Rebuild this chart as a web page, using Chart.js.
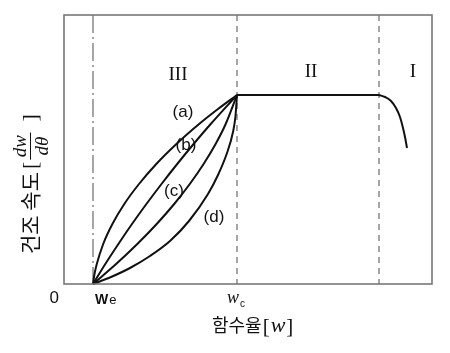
<!DOCTYPE html>
<html>
<head>
<meta charset="utf-8">
<script src="https://cdn.jsdelivr.net/npm/chart.js@4"></script>
<style>
  html, body { margin: 0; padding: 0; background: #fff; }
  canvas { display: block; }
</style>
</head>
<body>
<canvas id="dryChart" width="450" height="353"></canvas>
<script>
// ---------------- data (함수율 w, 건조 속도) ----------------
// axis ranges (arbitrary units)
const wMax = 368;
const rateMax = 269;

// region boundaries: We, wc, 1st/2nd stage boundary
const wE = 29;
const wC = 173;
const wK = 315;

// falling-rate curves (a)~(d), from We up to wc
const curveA = [[29, 0], [30.5, 10], [32.8, 20], [39.2, 40], [48.4, 60], [60.3, 80], [75, 100], [92.3, 120], [112.4, 140], [135.1, 160], [154, 175], [173, 189]];
const curveB = [[29, 0], [41.3, 20], [54.4, 40], [68, 60], [82.4, 80], [97.5, 100], [113.2, 120], [129.6, 140], [146.7, 160], [173, 189]];
const curveC = [[29, 0], [52.1, 20], [73.3, 40], [92.7, 60], [110.2, 80], [125.8, 100], [139.6, 120], [151.6, 140], [161.7, 160], [173, 189]];
const curveD = [[29, 0], [47, 7], [66, 16], [86, 28], [106, 43], [125, 63], [144, 90], [154, 109], [163, 131], [169, 152], [171.5, 168], [173, 189]];

// constant-rate stage II and preheating stage I
const constRate = [[173, 189], [315, 189]];
const preheat = [[315, 189], [321, 187], [327, 183], [332, 176], [336, 167], [339, 156], [341, 147], [343, 136]];

// text labels (x, y in data units)
const curveLabels = [["(a)", 119, 172], ["(b)", 122, 139], ["(c)", 110, 93], ["(d)", 150, 67]];
const stageLabels = [["III", 114, 209], ["II", 247, 212], ["I", 349, 212]];

// ----------------옵션----------------
const toXY = (arr) => arr.map((p) => ({ x: p[0], y: p[1] }));

const lineSet = (arr) => ({
  data: toXY(arr),
  showLine: true,
  borderColor: "#111",
  borderWidth: 2,
  pointRadius: 0,
  cubicInterpolationMode: "monotone",
  clip: false,
});

const SANS = '"Liberation Sans", Arial, sans-serif';
const SERIF = '"Liberation Serif", "DejaVu Serif", serif';
const KR = '"Noto Sans CJK KR", sans-serif';

const guidePlugin = {
  id: "guides",
  beforeDatasetsDraw(chart) {
    const { ctx, chartArea: a, scales } = chart;
    ctx.save();
    // We : dash-dot
    ctx.strokeStyle = "#777";
    ctx.lineWidth = 1.3;
    ctx.setLineDash([18, 4, 2, 4]);
    let x = scales.x.getPixelForValue(wE);
    ctx.beginPath();
    ctx.moveTo(x, a.top);
    ctx.lineTo(x, a.bottom);
    ctx.stroke();
    // wc, stage boundary : dashed
    ctx.strokeStyle = "#888";
    ctx.lineWidth = 1.5;
    ctx.setLineDash([6, 5]);
    [wC, wK].forEach((v) => {
      x = scales.x.getPixelForValue(v);
      ctx.beginPath();
      ctx.moveTo(x, a.top);
      ctx.lineTo(x, a.bottom);
      ctx.stroke();
    });
    ctx.restore();
  },
  afterDraw(chart) {
    const { ctx, chartArea: a, scales } = chart;
    const px = (v) => scales.x.getPixelForValue(v);
    const py = (v) => scales.y.getPixelForValue(v);
    ctx.save();
    // frame
    ctx.strokeStyle = "#777";
    ctx.lineWidth = 1.6;
    ctx.setLineDash([]);
    ctx.strokeRect(a.left, a.top, a.right - a.left, a.bottom - a.top);

    ctx.fillStyle = "#111";
    ctx.textAlign = "center";
    ctx.textBaseline = "middle";
    ctx.font = "17px " + SANS;
    curveLabels.forEach((l) => ctx.fillText(l[0], px(l[1]), py(l[2])));
    ctx.font = "19px " + SERIF;
    stageLabels.forEach((l) => ctx.fillText(l[0], px(l[1]), py(l[2])));

    // x tick texts
    ctx.textBaseline = "alphabetic";
    ctx.textAlign = "right";
    ctx.font = "17px " + SANS;
    ctx.fillText("0", a.left - 5, 303);
    ctx.textAlign = "left";
    ctx.font = "bold 14px " + SANS;
    const xe = px(wE) + 2;
    ctx.fillText("W", xe, 304);
    const ww = ctx.measureText("W").width;
    ctx.font = "13px " + SANS;
    ctx.fillText("e", xe + ww + 1, 304);

    ctx.font = "italic 18px " + SERIF;
    const wcw = ctx.measureText("w").width;
    const xc = px(wC) - 10;
    ctx.fillText("w", xc, 303);
    ctx.font = "10px " + SANS;
    ctx.fillText("c", xc + wcw + 1, 307);

    // x title 함수율[w]
    let tx = 212;
    ctx.font = "18px " + KR;
    ctx.fillText("함수율", tx, 332);
    tx += ctx.measureText("함수율").width + 1;
    ctx.font = "21px " + SERIF;
    ctx.fillText("[", tx, 333);
    tx += ctx.measureText("[").width + 1;
    ctx.font = "italic 22px " + SERIF;
    ctx.fillText("w", tx, 332);
    tx += ctx.measureText("w").width + 1;
    ctx.font = "21px " + SERIF;
    ctx.fillText("]", tx, 333);

    // y title 건조 속도 [dw/dθ]
    ctx.translate(30, 254);
    ctx.rotate(-Math.PI / 2);
    ctx.textBaseline = "middle";
    ctx.font = "21px " + KR;
    ctx.fillText("건조 속도", 0, 0);
    let ty = ctx.measureText("건조 속도").width + 3;
    ctx.font = "22px " + SERIF;
    ctx.fillText("[", ty, 1);
    ty += ctx.measureText("[").width + 2;
    ctx.font = "italic 19px " + SERIF;
    const fw = Math.max(ctx.measureText("dw").width, ctx.measureText("dθ").width) + 5;
    ctx.textAlign = "center";
    ctx.textBaseline = "alphabetic";
    ctx.fillText("dw", ty + fw / 2, -4);
    ctx.textBaseline = "top";
    ctx.fillText("dθ", ty + fw / 2, 3);
    ctx.lineWidth = 1;
    ctx.strokeStyle = "#111";
    ctx.beginPath();
    ctx.moveTo(ty, 0.5);
    ctx.lineTo(ty + fw, 0.5);
    ctx.stroke();
    ty += fw + 11;
    ctx.textAlign = "left";
    ctx.textBaseline = "middle";
    ctx.font = "22px " + SERIF;
    ctx.fillText("]", ty, 1);
    ctx.restore();
  },
};

const config = {
  type: "scatter",
  data: {
    datasets: [curveA, curveB, curveC, curveD, constRate, preheat].map(lineSet),
  },
  options: {
    responsive: false,
    animation: false,
    devicePixelRatio: 1,
    layout: { padding: { left: 64, top: 15, right: 18, bottom: 69 } },
    plugins: { legend: { display: false }, tooltip: { enabled: false } },
    scales: {
      x: { type: "linear", min: 0, max: wMax, display: false },
      y: { type: "linear", min: 0, max: rateMax, display: false },
    },
  },
  plugins: [guidePlugin],
};
new Chart(document.getElementById("dryChart"), config);
</script>
</body>
</html>
